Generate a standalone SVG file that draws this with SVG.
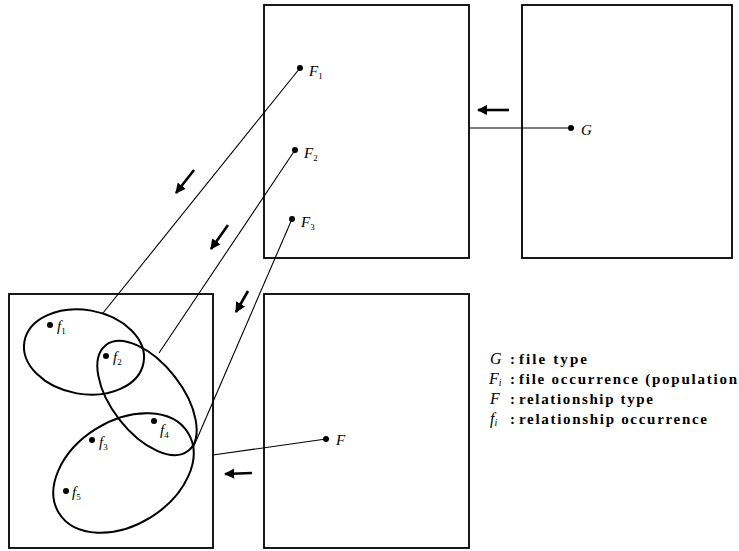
<svg xmlns="http://www.w3.org/2000/svg" width="739" height="551" viewBox="0 0 739 551">
<style>
.box{fill:none;stroke:#000;stroke-width:1.8}
.ell{fill:none;stroke:#000;stroke-width:2}
.con{fill:none;stroke:#000;stroke-width:1.1}
.arr{fill:none;stroke:#000;stroke-width:2.6;marker-end:url(#ah)}
.dot{fill:#000}
.lab{font-family:"Liberation Serif",serif;font-style:italic;font-size:15px;fill:#000}
.sub{font-size:9px;font-style:normal}
.leg{font-family:"Liberation Serif",serif;font-weight:bold;font-size:15px;fill:#000}
.legi{font-family:"Liberation Serif",serif;font-style:italic;font-size:16px;fill:#000}
</style>
<defs>
<marker id="ah" viewBox="0 0 10 10" refX="9" refY="5" markerWidth="4" markerHeight="4" orient="auto" markerUnits="strokeWidth">
<path d="M0,0 L10,5 L0,10 Z" fill="#000"/>
</marker>
</defs>
<rect width="739" height="551" fill="#fff"/>
<g id="box-Fi">
<rect class="box" x="264" y="5" width="205" height="253"/>
<circle class="dot" cx="300" cy="68" r="3"/>
<text class="lab" x="309" y="76">F<tspan class="sub" dy="3">1</tspan></text>
<circle class="dot" cx="295" cy="150" r="3"/>
<text class="lab" x="304" y="158">F<tspan class="sub" dy="3">2</tspan></text>
<circle class="dot" cx="292" cy="219" r="3"/>
<text class="lab" x="301" y="227">F<tspan class="sub" dy="3">3</tspan></text>
</g>
<g id="box-G">
<rect class="box" x="522" y="5" width="210" height="253"/>
<circle class="dot" cx="571" cy="128" r="3"/>
<text class="lab" x="581" y="135">G</text>
</g>
<g id="box-F">
<rect class="box" x="264" y="294" width="205" height="254"/>
<circle class="dot" cx="326" cy="439" r="3"/>
<text class="lab" x="336" y="445">F</text>
</g>
<g id="box-fi">
<rect class="box" x="9" y="294" width="204" height="254"/>
<ellipse class="ell" cx="84" cy="352" rx="60.5" ry="42" transform="rotate(10 84 352)"/>
<ellipse class="ell" cx="147" cy="398" rx="67" ry="35" transform="rotate(52 147 398)"/>
<ellipse class="ell" cx="123.5" cy="473" rx="76" ry="52" transform="rotate(-32 123.5 473)"/>
<circle class="dot" cx="50" cy="325" r="3"/>
<text class="lab" x="57" y="331">f<tspan class="sub" dy="3">1</tspan></text>
<circle class="dot" cx="106" cy="356" r="3"/>
<text class="lab" x="113" y="362">f<tspan class="sub" dy="3">2</tspan></text>
<circle class="dot" cx="92" cy="440" r="3"/>
<text class="lab" x="99" y="447">f<tspan class="sub" dy="3">3</tspan></text>
<circle class="dot" cx="154" cy="421" r="3"/>
<text class="lab" x="160" y="435">f<tspan class="sub" dy="3">4</tspan></text>
<circle class="dot" cx="66" cy="491" r="3"/>
<text class="lab" x="72" y="497">f<tspan class="sub" dy="3">5</tspan></text>
</g>
<g id="connectors">
<line class="con" x1="300" y1="68" x2="103" y2="313"/>
<line class="con" x1="295" y1="150" x2="159" y2="353"/>
<line class="con" x1="292" y1="219" x2="193" y2="448"/>
<line class="con" x1="469" y1="128" x2="571" y2="128"/>
<line class="con" x1="326" y1="439" x2="213" y2="455"/>
<line class="arr" x1="194" y1="170" x2="176" y2="193"/>
<line class="arr" x1="228" y1="225" x2="211" y2="249"/>
<line class="arr" x1="248" y1="291" x2="236" y2="312"/>
<line class="arr" x1="509" y1="110" x2="478" y2="110"/>
<line class="arr" x1="252" y1="473" x2="225" y2="474"/>
</g>
<g id="legend">
<text class="legi" x="490" y="364">G</text>
<text class="leg" x="510" y="364">:</text>
<text class="leg" x="519" y="364" textLength="68" lengthAdjust="spacing">file type</text>
<text class="legi" x="489" y="384">F<tspan font-size="10" dy="2">i</tspan></text>
<text class="leg" x="510" y="384">:</text>
<text class="leg" x="519" y="384" textLength="218" lengthAdjust="spacing">file occurrence (population</text>
<text class="legi" x="490" y="404">F</text>
<text class="leg" x="510" y="404">:</text>
<text class="leg" x="519" y="404" textLength="134" lengthAdjust="spacing">relationship type</text>
<text class="legi" x="490" y="424">f<tspan font-size="10" dy="2">i</tspan></text>
<text class="leg" x="510" y="424">:</text>
<text class="leg" x="519" y="424" textLength="188" lengthAdjust="spacing">relationship occurrence</text>
</g>
</svg>
